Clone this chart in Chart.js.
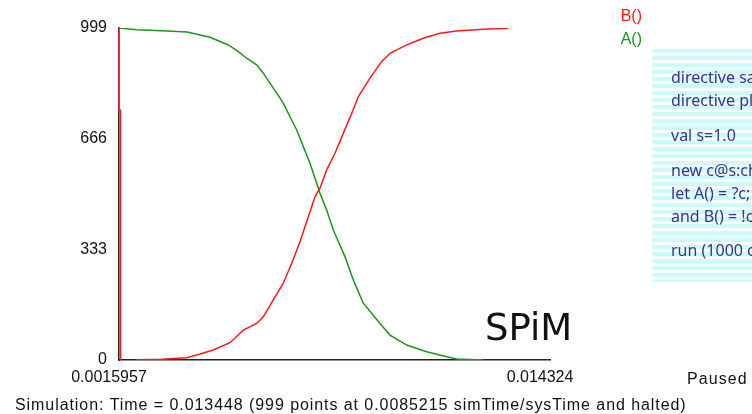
<!DOCTYPE html>
<html>
<head>
<meta charset="utf-8">
<script src="https://cdn.jsdelivr.net/npm/chart.js@4.4.1/dist/chart.umd.min.js"></script>
<style>
  html, body { margin: 0; padding: 0; background: #fff; }
  #wrap { position: relative; width: 752px; height: 414px; overflow: hidden; }
</style>
</head>
<body>
<div id="wrap"><canvas id="myChart" width="752" height="414"></canvas></div>
<script>
// A() counts over simulation time
const timeA = [0.0015957, 0.002118, 0.002857, 0.003613, 0.003988, 0.004283, 0.004824, 0.005119,
  0.005367, 0.005662, 0.005857, 0.006153, 0.006253, 0.006448, 0.006646, 0.006844, 0.007038,
  0.007236, 0.007434, 0.007531, 0.007729, 0.007924, 0.008270, 0.008515, 0.008810, 0.009303,
  0.009599, 0.010092, 0.010682, 0.011273, 0.011569, 0.012354];
const countA = [999, 994, 991, 987, 978, 971, 948, 928, 908, 888, 863, 818, 803, 773, 732, 692, 642,
  592, 532, 502, 451, 391, 311, 241, 171, 110, 75, 45, 25, 10, 3, 0];

// B() counts
const timeB = [0.002118, 0.002857, 0.003595, 0.003988, 0.004381,
  0.004874, 0.005267, 0.005662, 0.005857, 0.006153, 0.006448, 0.006696, 0.006941, 0.007186,
  0.007384, 0.007531, 0.007729, 0.007975, 0.008220, 0.008468, 0.008663, 0.009008, 0.009354,
  0.009599, 0.010092, 0.010582, 0.011075, 0.011569, 0.012354, 0.013092];
const countB = [1, 2, 7, 18, 30, 52, 90, 110, 130, 181, 231, 291, 356, 431, 491, 517,
  572, 622, 682, 742, 792, 848, 898, 923, 948, 968, 983, 990, 995, 998];

// the initial drop of B() drawn at the start of the run
const timeBStart = [0.0015957, 0.0015957, 0.001640, 0.001640];
const countBStart = [999, 752, 752, 0];

const xTickValues = [0.0015957, 0.014324];
const xTickLabels = ['0.0015957', '0.014324'];
const yTickValues = [0, 333, 666, 999];

const legendNames = ['B()', 'A()'];
const codeLines = ['directive sample 0.01 1000', 'directive plot A(); B()', 'val s=1.0',
  'new c@s:chan', 'let A() = ?c; B()', 'and B() = !c; A()', 'run (1000 of A())'];
const statusText = 'Simulation: Time = 0.013448 (999 points at 0.0085215 simTime/sysTime and halted)';

const RED = '#ff1a1a';
const GREEN = '#1c961c';

const extras = {
  id: 'extras',
  afterDraw(chart) {
    const ctx = chart.ctx;
    ctx.save();
    // code panel with stripes
    ctx.fillStyle = '#fff';
    ctx.fillRect(652, 49, 100, 233);
    ctx.fillStyle = '#ccfcfc';
    for (let y = 49; y < 282; y += 7) ctx.fillRect(652, y, 100, Math.min(4, 282 - y));
    ctx.beginPath();
    ctx.rect(652, 49, 100, 233);
    ctx.clip();
    ctx.fillStyle = '#32329a';
    ctx.font = '16px "Comic Sans MS", "Noto Sans", sans-serif';
    ctx.textAlign = 'left';
    ctx.textBaseline = 'alphabetic';
    const base = [83, 106, 141, 176, 199, 222, 256];
    codeLines.forEach((t, i) => ctx.fillText(t, 671, base[i]));
    ctx.restore();

    ctx.save();
    ctx.textBaseline = 'alphabetic';
    ctx.font = '16px "Liberation Sans", Arial, sans-serif';
    ctx.textAlign = 'right';
    ctx.fillStyle = RED;
    ctx.fillText(legendNames[0], 642, 21);
    ctx.fillStyle = GREEN;
    ctx.fillText(legendNames[1], 642, 44);
    ctx.textAlign = 'left';
    ctx.fillStyle = '#111';
    ctx.letterSpacing = '1.1px';
    ctx.fillText('Paused', 687, 384);
    ctx.letterSpacing = '0.93px';
    ctx.fillText(statusText, 15, 410);
    ctx.letterSpacing = '0px';
    ctx.font = '37px "Comic Sans MS", "DejaVu Sans", sans-serif';
    ctx.fillText('SPiM', 485, 340);
    ctx.restore();
  }
};

const data = {
  datasets: [{
    label: legendNames[0],
    data: timeB.map((t, i) => ({ x: t, y: countB[i] })),
    borderColor: RED,
    borderWidth: 1.5,
    pointRadius: 0
  }, {
    label: legendNames[0] + ' start',
    data: timeBStart.map((t, i) => ({ x: t, y: countBStart[i] })),
    borderColor: RED,
    borderWidth: 1.5,
    pointRadius: 0,
    clip: false
  }, {
    label: legendNames[1],
    data: timeA.map((t, i) => ({ x: t, y: countA[i] })),
    borderColor: GREEN,
    borderWidth: 1.5,
    pointRadius: 0
  }]
};

const config = {
  type: 'line',
  data,
  options: {
    responsive: false,
    animation: false,
    layout: { padding: { left: 0, right: 202, top: 28, bottom: 0 } },
    plugins: { legend: { display: false }, tooltip: { enabled: false } },
    elements: { line: { tension: 0 } },
    scales: {
      x: {
        type: 'linear',
        min: xTickValues[0],
        max: xTickValues[1],
        afterBuildTicks: s => { s.ticks = xTickValues.map(v => ({ value: v })); },
        afterFit: s => { s.height = 54; },
        grid: { display: false, drawTicks: false },
        border: { display: true, color: '#222', width: 1.5 },
        ticks: {
          autoSkip: false, maxRotation: 0, padding: 8, labelOffset: -10,
          color: '#111', font: { family: '"Liberation Sans", Arial', size: 16 },
          callback: (v, i) => xTickLabels[i]
        }
      },
      y: {
        min: 0,
        max: 999,
        afterBuildTicks: s => { s.ticks = yTickValues.map(v => ({ value: v })); },
        afterFit: s => { s.width = 119; },
        grid: { display: false, drawTicks: false },
        border: { display: true, color: '#222', width: 1.5 },
        ticks: {
          padding: 12, color: '#111', font: { family: '"Liberation Sans", Arial', size: 16 },
          callback: v => String(v)
        }
      }
    }
  },
  plugins: [extras]
};

const chart = new Chart(document.getElementById('myChart'), config);
</script>
</body>
</html>
